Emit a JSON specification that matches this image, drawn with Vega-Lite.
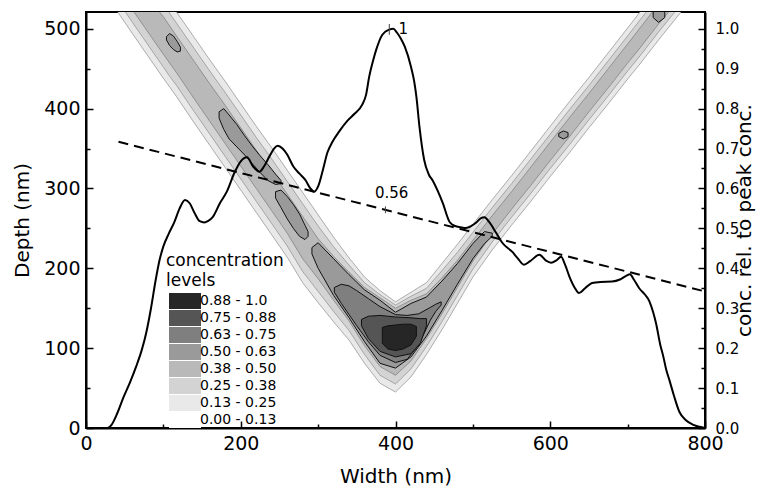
{
  "$schema": "https://vega.github.io/schema/vega-lite/v6.json",
  "width": 619,
  "height": 416,
  "autosize": "none",
  "padding": {"left": 86, "top": 12, "right": 60, "bottom": 60},
  "config": {
    "view": {"stroke": "black", "strokeWidth": 2},
    "axis": {"grid": false, "domainColor": "black", "domainWidth": 2, "tickColor": "black", "tickWidth": 1.5, "labelColor": "black", "titleColor": "black", "labelFont": "DejaVu Sans", "titleFont": "DejaVu Sans", "titleFontWeight": "normal", "labelFlush": false, "labelOverlap": false, "labelBound": false}
  },
  "datasets": {
    "contour": [
      {"level":"0.13 - 0.25","part":"v","x":41,"lo":521,"hi":560},
      {"level":"0.13 - 0.25","part":"v","x":60,"lo":494,"hi":560},
      {"level":"0.13 - 0.25","part":"v","x":80,"lo":466,"hi":560},
      {"level":"0.13 - 0.25","part":"v","x":100,"lo":438,"hi":560},
      {"level":"0.13 - 0.25","part":"v","x":117,"lo":415,"hi":521},
      {"level":"0.13 - 0.25","part":"v","x":140,"lo":382,"hi":489},
      {"level":"0.13 - 0.25","part":"v","x":160,"lo":354,"hi":461},
      {"level":"0.13 - 0.25","part":"v","x":180,"lo":326,"hi":434},
      {"level":"0.13 - 0.25","part":"v","x":200,"lo":298,"hi":406},
      {"level":"0.13 - 0.25","part":"v","x":220,"lo":270,"hi":378},
      {"level":"0.13 - 0.25","part":"v","x":240,"lo":242,"hi":351},
      {"level":"0.13 - 0.25","part":"v","x":260,"lo":214,"hi":323},
      {"level":"0.13 - 0.25","part":"v","x":280,"lo":182,"hi":295},
      {"level":"0.13 - 0.25","part":"v","x":300,"lo":157,"hi":267},
      {"level":"0.13 - 0.25","part":"v","x":320,"lo":133,"hi":239},
      {"level":"0.13 - 0.25","part":"v","x":340,"lo":110,"hi":213},
      {"level":"0.13 - 0.25","part":"v","x":360,"lo":81,"hi":189},
      {"level":"0.13 - 0.25","part":"v","x":380,"lo":56,"hi":172},
      {"level":"0.13 - 0.25","part":"v","x":400,"lo":45,"hi":158},
      {"level":"0.13 - 0.25","part":"v","x":420,"lo":64,"hi":170},
      {"level":"0.13 - 0.25","part":"v","x":440,"lo":92,"hi":182},
      {"level":"0.13 - 0.25","part":"v","x":460,"lo":123,"hi":206},
      {"level":"0.13 - 0.25","part":"v","x":480,"lo":156,"hi":230},
      {"level":"0.13 - 0.25","part":"v","x":500,"lo":189,"hi":255},
      {"level":"0.13 - 0.25","part":"v","x":525,"lo":223,"hi":286},
      {"level":"0.13 - 0.25","part":"v","x":550,"lo":254,"hi":316},
      {"level":"0.13 - 0.25","part":"v","x":575,"lo":284,"hi":347},
      {"level":"0.13 - 0.25","part":"v","x":600,"lo":315,"hi":378},
      {"level":"0.13 - 0.25","part":"v","x":625,"lo":345,"hi":409},
      {"level":"0.13 - 0.25","part":"v","x":650,"lo":376,"hi":439},
      {"level":"0.13 - 0.25","part":"v","x":675,"lo":406,"hi":470},
      {"level":"0.13 - 0.25","part":"v","x":700,"lo":437,"hi":501},
      {"level":"0.13 - 0.25","part":"v","x":716,"lo":456,"hi":521},
      {"level":"0.13 - 0.25","part":"v","x":740,"lo":486,"hi":560},
      {"level":"0.13 - 0.25","part":"v","x":769,"lo":521,"hi":560},

      {"level":"0.25 - 0.38","part":"v","x":51,"lo":521,"hi":560},
      {"level":"0.25 - 0.38","part":"v","x":60,"lo":508,"hi":560},
      {"level":"0.25 - 0.38","part":"v","x":80,"lo":480,"hi":560},
      {"level":"0.25 - 0.38","part":"v","x":100,"lo":452,"hi":560},
      {"level":"0.25 - 0.38","part":"v","x":107,"lo":442,"hi":521},
      {"level":"0.25 - 0.38","part":"v","x":117,"lo":429,"hi":507},
      {"level":"0.25 - 0.38","part":"v","x":140,"lo":396,"hi":475},
      {"level":"0.25 - 0.38","part":"v","x":160,"lo":368,"hi":447},
      {"level":"0.25 - 0.38","part":"v","x":180,"lo":340,"hi":420},
      {"level":"0.25 - 0.38","part":"v","x":200,"lo":312,"hi":392},
      {"level":"0.25 - 0.38","part":"v","x":220,"lo":284,"hi":364},
      {"level":"0.25 - 0.38","part":"v","x":240,"lo":256,"hi":337},
      {"level":"0.25 - 0.38","part":"v","x":260,"lo":228,"hi":309},
      {"level":"0.25 - 0.38","part":"v","x":280,"lo":196,"hi":281},
      {"level":"0.25 - 0.38","part":"v","x":300,"lo":171,"hi":253},
      {"level":"0.25 - 0.38","part":"v","x":320,"lo":146,"hi":227},
      {"level":"0.25 - 0.38","part":"v","x":340,"lo":122,"hi":204},
      {"level":"0.25 - 0.38","part":"v","x":360,"lo":92,"hi":182},
      {"level":"0.25 - 0.38","part":"v","x":380,"lo":66,"hi":167},
      {"level":"0.25 - 0.38","part":"v","x":400,"lo":55,"hi":154},
      {"level":"0.25 - 0.38","part":"v","x":420,"lo":74,"hi":165},
      {"level":"0.25 - 0.38","part":"v","x":440,"lo":102,"hi":175},
      {"level":"0.25 - 0.38","part":"v","x":460,"lo":133,"hi":197},
      {"level":"0.25 - 0.38","part":"v","x":480,"lo":166,"hi":220},
      {"level":"0.25 - 0.38","part":"v","x":500,"lo":199,"hi":245},
      {"level":"0.25 - 0.38","part":"v","x":525,"lo":233,"hi":276},
      {"level":"0.25 - 0.38","part":"v","x":550,"lo":264,"hi":306},
      {"level":"0.25 - 0.38","part":"v","x":575,"lo":294,"hi":337},
      {"level":"0.25 - 0.38","part":"v","x":600,"lo":325,"hi":368},
      {"level":"0.25 - 0.38","part":"v","x":625,"lo":355,"hi":399},
      {"level":"0.25 - 0.38","part":"v","x":650,"lo":386,"hi":429},
      {"level":"0.25 - 0.38","part":"v","x":675,"lo":416,"hi":460},
      {"level":"0.25 - 0.38","part":"v","x":700,"lo":447,"hi":491},
      {"level":"0.25 - 0.38","part":"v","x":716,"lo":466,"hi":511},
      {"level":"0.25 - 0.38","part":"v","x":724,"lo":476,"hi":521},
      {"level":"0.25 - 0.38","part":"v","x":740,"lo":496,"hi":560},
      {"level":"0.25 - 0.38","part":"v","x":761,"lo":521,"hi":560},

      {"level":"0.38 - 0.50","part":"v","x":62,"lo":521,"hi":560},
      {"level":"0.38 - 0.50","part":"v","x":80,"lo":496,"hi":560},
      {"level":"0.38 - 0.50","part":"v","x":95,"lo":475,"hi":521},
      {"level":"0.38 - 0.50","part":"v","x":100,"lo":468,"hi":515},
      {"level":"0.38 - 0.50","part":"v","x":117,"lo":445,"hi":491},
      {"level":"0.38 - 0.50","part":"v","x":140,"lo":412,"hi":459},
      {"level":"0.38 - 0.50","part":"v","x":160,"lo":384,"hi":431},
      {"level":"0.38 - 0.50","part":"v","x":180,"lo":356,"hi":404},
      {"level":"0.38 - 0.50","part":"v","x":200,"lo":328,"hi":376},
      {"level":"0.38 - 0.50","part":"v","x":220,"lo":300,"hi":348},
      {"level":"0.38 - 0.50","part":"v","x":240,"lo":272,"hi":321},
      {"level":"0.38 - 0.50","part":"v","x":260,"lo":244,"hi":293},
      {"level":"0.38 - 0.50","part":"v","x":280,"lo":212,"hi":265},
      {"level":"0.38 - 0.50","part":"v","x":300,"lo":187,"hi":237},
      {"level":"0.38 - 0.50","part":"v","x":320,"lo":160,"hi":215},
      {"level":"0.38 - 0.50","part":"v","x":340,"lo":134,"hi":195},
      {"level":"0.38 - 0.50","part":"v","x":360,"lo":103,"hi":176},
      {"level":"0.38 - 0.50","part":"v","x":380,"lo":77,"hi":163},
      {"level":"0.38 - 0.50","part":"v","x":400,"lo":66,"hi":150},
      {"level":"0.38 - 0.50","part":"v","x":420,"lo":84,"hi":160},
      {"level":"0.38 - 0.50","part":"v","x":440,"lo":112,"hi":168},
      {"level":"0.38 - 0.50","part":"v","x":460,"lo":143,"hi":188},
      {"level":"0.38 - 0.50","part":"v","x":480,"lo":176,"hi":210},
      {"level":"0.38 - 0.50","part":"v","x":500,"lo":209,"hi":235},
      {"level":"0.38 - 0.50","part":"v","x":525,"lo":243,"hi":266},
      {"level":"0.38 - 0.50","part":"v","x":550,"lo":274,"hi":296},
      {"level":"0.38 - 0.50","part":"v","x":575,"lo":304,"hi":327},
      {"level":"0.38 - 0.50","part":"v","x":600,"lo":335,"hi":358},
      {"level":"0.38 - 0.50","part":"v","x":625,"lo":365,"hi":389},
      {"level":"0.38 - 0.50","part":"v","x":650,"lo":396,"hi":419},
      {"level":"0.38 - 0.50","part":"v","x":675,"lo":426,"hi":450},
      {"level":"0.38 - 0.50","part":"v","x":700,"lo":457,"hi":481},
      {"level":"0.38 - 0.50","part":"v","x":716,"lo":476,"hi":501},
      {"level":"0.38 - 0.50","part":"v","x":732,"lo":496,"hi":521},
      {"level":"0.38 - 0.50","part":"v","x":740,"lo":506,"hi":560},
      {"level":"0.38 - 0.50","part":"v","x":753,"lo":521,"hi":560},

      {"level":"0.50 - 0.63","part":"a","x":104,"lo":486,"hi":490},
      {"level":"0.50 - 0.63","part":"a","x":108,"lo":479,"hi":494},
      {"level":"0.50 - 0.63","part":"a","x":113,"lo":474,"hi":491},
      {"level":"0.50 - 0.63","part":"a","x":118,"lo":471,"hi":484},
      {"level":"0.50 - 0.63","part":"a","x":122,"lo":472,"hi":477},
      {"level":"0.50 - 0.63","part":"b","x":172,"lo":388,"hi":396},
      {"level":"0.50 - 0.63","part":"b","x":178,"lo":374,"hi":400},
      {"level":"0.50 - 0.63","part":"b","x":185,"lo":362,"hi":392},
      {"level":"0.50 - 0.63","part":"b","x":195,"lo":352,"hi":380},
      {"level":"0.50 - 0.63","part":"b","x":205,"lo":342,"hi":366},
      {"level":"0.50 - 0.63","part":"b","x":215,"lo":331,"hi":353},
      {"level":"0.50 - 0.63","part":"b","x":225,"lo":320,"hi":341},
      {"level":"0.50 - 0.63","part":"b","x":235,"lo":310,"hi":330},
      {"level":"0.50 - 0.63","part":"b","x":245,"lo":305,"hi":318},
      {"level":"0.50 - 0.63","part":"b","x":252,"lo":306,"hi":310},
      {"level":"0.50 - 0.63","part":"c","x":245,"lo":288,"hi":296},
      {"level":"0.50 - 0.63","part":"c","x":252,"lo":276,"hi":298},
      {"level":"0.50 - 0.63","part":"c","x":260,"lo":262,"hi":290},
      {"level":"0.50 - 0.63","part":"c","x":268,"lo":250,"hi":280},
      {"level":"0.50 - 0.63","part":"c","x":276,"lo":240,"hi":268},
      {"level":"0.50 - 0.63","part":"c","x":283,"lo":236,"hi":254},
      {"level":"0.50 - 0.63","part":"c","x":287,"lo":240,"hi":246},
      {"level":"0.50 - 0.63","part":"d","x":292,"lo":218,"hi":226},
      {"level":"0.50 - 0.63","part":"d","x":300,"lo":200,"hi":232},
      {"level":"0.50 - 0.63","part":"d","x":320,"lo":166,"hi":212},
      {"level":"0.50 - 0.63","part":"d","x":340,"lo":138,"hi":192},
      {"level":"0.50 - 0.63","part":"d","x":360,"lo":108,"hi":173},
      {"level":"0.50 - 0.63","part":"d","x":380,"lo":81,"hi":160},
      {"level":"0.50 - 0.63","part":"d","x":400,"lo":75,"hi":145},
      {"level":"0.50 - 0.63","part":"d","x":420,"lo":89,"hi":156},
      {"level":"0.50 - 0.63","part":"d","x":440,"lo":115,"hi":164},
      {"level":"0.50 - 0.63","part":"d","x":460,"lo":147,"hi":184},
      {"level":"0.50 - 0.63","part":"d","x":480,"lo":180,"hi":206},
      {"level":"0.50 - 0.63","part":"d","x":500,"lo":212,"hi":231},
      {"level":"0.50 - 0.63","part":"d","x":515,"lo":231,"hi":246},
      {"level":"0.50 - 0.63","part":"d","x":525,"lo":240,"hi":244},
      {"level":"0.50 - 0.63","part":"f","x":611,"lo":365,"hi":369},
      {"level":"0.50 - 0.63","part":"f","x":617,"lo":362,"hi":372},
      {"level":"0.50 - 0.63","part":"f","x":623,"lo":365,"hi":370},
      {"level":"0.50 - 0.63","part":"g","x":733,"lo":514,"hi":530},
      {"level":"0.50 - 0.63","part":"g","x":740,"lo":508,"hi":530},
      {"level":"0.50 - 0.63","part":"g","x":748,"lo":514,"hi":530},

      {"level":"0.63 - 0.75","part":"e","x":321,"lo":170,"hi":176},
      {"level":"0.63 - 0.75","part":"e","x":330,"lo":156,"hi":180},
      {"level":"0.63 - 0.75","part":"e","x":340,"lo":142,"hi":178},
      {"level":"0.63 - 0.75","part":"e","x":350,"lo":128,"hi":172},
      {"level":"0.63 - 0.75","part":"e","x":365,"lo":108,"hi":162},
      {"level":"0.63 - 0.75","part":"e","x":380,"lo":91,"hi":152},
      {"level":"0.63 - 0.75","part":"e","x":400,"lo":82,"hi":142},
      {"level":"0.63 - 0.75","part":"e","x":415,"lo":86,"hi":141},
      {"level":"0.63 - 0.75","part":"e","x":430,"lo":104,"hi":143},
      {"level":"0.63 - 0.75","part":"e","x":445,"lo":135,"hi":151},
      {"level":"0.63 - 0.75","part":"e","x":452,"lo":146,"hi":155},
      {"level":"0.63 - 0.75","part":"e","x":459,"lo":154,"hi":158},

      {"level":"0.75 - 0.88","part":"h","x":356,"lo":128,"hi":136},
      {"level":"0.75 - 0.88","part":"h","x":365,"lo":112,"hi":140},
      {"level":"0.75 - 0.88","part":"h","x":380,"lo":96,"hi":141},
      {"level":"0.75 - 0.88","part":"h","x":400,"lo":89,"hi":139},
      {"level":"0.75 - 0.88","part":"h","x":420,"lo":93,"hi":138},
      {"level":"0.75 - 0.88","part":"h","x":432,"lo":106,"hi":137},
      {"level":"0.75 - 0.88","part":"h","x":440,"lo":128,"hi":137},

      {"level":"0.88 - 1.0","part":"k","x":383,"lo":106,"hi":126},
      {"level":"0.88 - 1.0","part":"k","x":390,"lo":99,"hi":128},
      {"level":"0.88 - 1.0","part":"k","x":400,"lo":97,"hi":129},
      {"level":"0.88 - 1.0","part":"k","x":410,"lo":99,"hi":130},
      {"level":"0.88 - 1.0","part":"k","x":420,"lo":104,"hi":130},
      {"level":"0.88 - 1.0","part":"k","x":427,"lo":115,"hi":127}
    ],
    "lines": [
      {"kind":"profile","x":0,"c":0},{"kind":"profile","x":28,"c":0},{"kind":"profile","x":33,"c":0.008},{"kind":"profile","x":40,"c":0.035},
      {"kind":"profile","x":48,"c":0.075},{"kind":"profile","x":57,"c":0.115},{"kind":"profile","x":65,"c":0.155},{"kind":"profile","x":72,"c":0.195},
      {"kind":"profile","x":78,"c":0.24},{"kind":"profile","x":84,"c":0.3},{"kind":"profile","x":90,"c":0.37},{"kind":"profile","x":95,"c":0.42},
      {"kind":"profile","x":100,"c":0.455},{"kind":"profile","x":107,"c":0.487},{"kind":"profile","x":114,"c":0.515},{"kind":"profile","x":121,"c":0.55},
      {"kind":"profile","x":128,"c":0.571},{"kind":"profile","x":134,"c":0.563},{"kind":"profile","x":140,"c":0.54},{"kind":"profile","x":147,"c":0.518},
      {"kind":"profile","x":153,"c":0.515},{"kind":"profile","x":158,"c":0.519},{"kind":"profile","x":164,"c":0.529},{"kind":"profile","x":173,"c":0.563},
      {"kind":"profile","x":182,"c":0.592},{"kind":"profile","x":192,"c":0.64},{"kind":"profile","x":200,"c":0.668},{"kind":"profile","x":208,"c":0.678},
      {"kind":"profile","x":216,"c":0.655},{"kind":"profile","x":224,"c":0.642},{"kind":"profile","x":230,"c":0.655},{"kind":"profile","x":237,"c":0.68},
      {"kind":"profile","x":243,"c":0.7},{"kind":"profile","x":248,"c":0.707},{"kind":"profile","x":254,"c":0.7},{"kind":"profile","x":260,"c":0.685},
      {"kind":"profile","x":268,"c":0.655},{"kind":"profile","x":276,"c":0.637},{"kind":"profile","x":284,"c":0.62},{"kind":"profile","x":290,"c":0.6},
      {"kind":"profile","x":295,"c":0.592},{"kind":"profile","x":300,"c":0.605},{"kind":"profile","x":306,"c":0.645},{"kind":"profile","x":312,"c":0.69},
      {"kind":"profile","x":318,"c":0.715},{"kind":"profile","x":328,"c":0.745},{"kind":"profile","x":338,"c":0.77},{"kind":"profile","x":347,"c":0.787},
      {"kind":"profile","x":357,"c":0.81},{"kind":"profile","x":362,"c":0.835},{"kind":"profile","x":366,"c":0.88},{"kind":"profile","x":371,"c":0.92},
      {"kind":"profile","x":375,"c":0.947},{"kind":"profile","x":383,"c":0.985},{"kind":"profile","x":392,"c":0.998},{"kind":"profile","x":397,"c":1.0},
      {"kind":"profile","x":402,"c":0.99},{"kind":"profile","x":407,"c":0.975},{"kind":"profile","x":412,"c":0.955},{"kind":"profile","x":420,"c":0.905},
      {"kind":"profile","x":424,"c":0.87},{"kind":"profile","x":427,"c":0.83},{"kind":"profile","x":431,"c":0.754},{"kind":"profile","x":437,"c":0.672},
      {"kind":"profile","x":443,"c":0.635},{"kind":"profile","x":448,"c":0.62},{"kind":"profile","x":455,"c":0.592},{"kind":"profile","x":461,"c":0.564},
      {"kind":"profile","x":470,"c":0.516},{"kind":"profile","x":477,"c":0.506},{"kind":"profile","x":484,"c":0.503},{"kind":"profile","x":491,"c":0.501},
      {"kind":"profile","x":498,"c":0.506},{"kind":"profile","x":504,"c":0.514},{"kind":"profile","x":510,"c":0.525},{"kind":"profile","x":515,"c":0.528},
      {"kind":"profile","x":521,"c":0.516},{"kind":"profile","x":530,"c":0.489},{"kind":"profile","x":538,"c":0.464},{"kind":"profile","x":551,"c":0.441},
      {"kind":"profile","x":558,"c":0.425},{"kind":"profile","x":566,"c":0.409},{"kind":"profile","x":574,"c":0.418},{"kind":"profile","x":586,"c":0.434},
      {"kind":"profile","x":594,"c":0.42},{"kind":"profile","x":601,"c":0.414},{"kind":"profile","x":608,"c":0.42},{"kind":"profile","x":614,"c":0.429},
      {"kind":"profile","x":619,"c":0.41},{"kind":"profile","x":625,"c":0.378},{"kind":"profile","x":632,"c":0.35},{"kind":"profile","x":637,"c":0.338},
      {"kind":"profile","x":645,"c":0.35},{"kind":"profile","x":654,"c":0.363},{"kind":"profile","x":665,"c":0.366},{"kind":"profile","x":680,"c":0.367},
      {"kind":"profile","x":690,"c":0.372},{"kind":"profile","x":698,"c":0.381},{"kind":"profile","x":703,"c":0.385},{"kind":"profile","x":708,"c":0.372},
      {"kind":"profile","x":715,"c":0.35},{"kind":"profile","x":722,"c":0.335},{"kind":"profile","x":728,"c":0.318},{"kind":"profile","x":733,"c":0.29},
      {"kind":"profile","x":737,"c":0.26},{"kind":"profile","x":742,"c":0.21},{"kind":"profile","x":746,"c":0.18},{"kind":"profile","x":750,"c":0.145},
      {"kind":"profile","x":754,"c":0.12},{"kind":"profile","x":760,"c":0.08},{"kind":"profile","x":767,"c":0.04},{"kind":"profile","x":775,"c":0.02},
      {"kind":"profile","x":785,"c":0.008},{"kind":"profile","x":793,"c":0.003},{"kind":"profile","x":800,"c":0},
      {"kind":"fit","x":42,"c":0.717},{"kind":"fit","x":800,"c":0.342},
      {"kind":"tick","x":392,"c":0.985,"c2":1.012},{"kind":"tick","x":387,"c":0.538,"c2":0.555},
      {"kind":"label","x":410,"c":1.0,"label":"1"},{"kind":"label","x":395,"c":0.589,"label":"0.56"}
    ]
  },
  "layer": [
    {
      "data": {"name": "contour"},
      "encoding": {
        "x": {"field": "x", "type": "quantitative", "scale": {"domain": [0, 800], "nice": false, "zero": false},
          "axis": {"title": "Width (nm)", "values": [0,100,200,300,400,500,600,700,800], "labelExpr": "datum.value % 200 == 0 ? datum.label : ''", "tickSize": {"condition": {"test": "datum.value % 200 != 0", "value": -4}, "value": -7}, "labelFontSize": 19, "labelPadding": 13, "titleFontSize": 20, "titlePadding": 10}},
        "y": {"field": "lo", "type": "quantitative", "scale": {"domain": [0, 521], "nice": false, "zero": false},
          "axis": {"title": "Depth (nm)", "values": [0,50,100,150,200,250,300,350,400,450,500], "labelExpr": "datum.value % 100 == 0 ? datum.label : ''", "tickSize": {"condition": {"test": "datum.value % 100 != 0", "value": -4}, "value": -7}, "labelFontSize": 19, "labelPadding": 13, "titleFontSize": 20, "titlePadding": 11}},
        "y2": {"field": "hi"},
        "detail": {"field": "part"},
        "color": {"field": "level", "type": "nominal",
          "scale": {"domain": ["0.88 - 1.0", "0.75 - 0.88", "0.63 - 0.75", "0.50 - 0.63", "0.38 - 0.50", "0.25 - 0.38", "0.13 - 0.25", "0.00 - 0.13"],
                    "range": ["#262626", "#555555", "#7f7f7f", "#9a9a9a", "#b9b9b9", "#d3d3d3", "#e9e9e9", "#ffffff"]},
          "legend": {"orient": "none", "legendX": 80, "legendY": 241, "title": ["concentration", "levels"], "titleFont": "DejaVu Sans", "titleFontSize": 17, "titleFontWeight": "normal", "titleColor": "black", "titleLineHeight": 20, "titlePadding": 3, "titleLimit": 400, "labelFont": "DejaVu Sans", "labelFontSize": 14, "labelColor": "black", "labelOffset": 7, "symbolType": "M-2,-1H2V1H-2Z", "symbolSize": 256, "symbolStrokeWidth": 0, "symbolOpacity": 1, "symbolOffset": 11, "rowPadding": 1, "padding": 0}}
      },
      "layer": [
        {"transform": [{"filter": "datum.level == '0.13 - 0.25'"}], "mark": {"type": "area", "clip": true, "stroke": "#8c8c8c", "strokeWidth": 0.7, "opacity": 1}},
        {"transform": [{"filter": "datum.level == '0.25 - 0.38'"}], "mark": {"type": "area", "clip": true, "stroke": "#8c8c8c", "strokeWidth": 0.7, "opacity": 1}},
        {"transform": [{"filter": "datum.level == '0.38 - 0.50'"}], "mark": {"type": "area", "clip": true, "stroke": "#7a7a7a", "strokeWidth": 0.7, "opacity": 1}},
        {"transform": [{"filter": "datum.level == '0.50 - 0.63'"}], "mark": {"type": "area", "clip": true, "stroke": "#111111", "strokeWidth": 1, "opacity": 1}},
        {"transform": [{"filter": "datum.level == '0.63 - 0.75'"}], "mark": {"type": "area", "clip": true, "stroke": "#111111", "strokeWidth": 1, "opacity": 1}},
        {"transform": [{"filter": "datum.level == '0.75 - 0.88'"}], "mark": {"type": "area", "clip": true, "stroke": "#111111", "strokeWidth": 1, "opacity": 1}},
        {"transform": [{"filter": "datum.level == '0.88 - 1.0'"}], "mark": {"type": "area", "clip": true, "stroke": "#111111", "strokeWidth": 1, "opacity": 1}}
      ]
    },
    {
      "data": {"name": "lines"},
      "encoding": {
        "x": {"field": "x", "type": "quantitative", "scale": {"domain": [0, 800], "nice": false, "zero": false},
          "axis": {"title": "Width (nm)", "values": [0,100,200,300,400,500,600,700,800], "labelExpr": "datum.value % 200 == 0 ? datum.label : ''", "tickSize": {"condition": {"test": "datum.value % 200 != 0", "value": -4}, "value": -7}, "labelFontSize": 19, "labelPadding": 13, "titleFontSize": 20, "titlePadding": 10}},
        "y": {"field": "c", "type": "quantitative", "scale": {"domain": [0, 1.042], "nice": false, "zero": false},
          "axis": {"orient": "right", "title": "conc. rel. to peak conc.", "values": [0,0.05,0.1,0.15,0.2,0.25,0.3,0.35,0.4,0.45,0.5,0.55,0.6,0.65,0.7,0.75,0.8,0.85,0.9,0.95,1.0], "labelExpr": "round(datum.value*100) % 10 == 0 ? format(datum.value, '.1f') : ''", "tickSize": {"condition": {"test": "round(datum.value*100) % 10 != 0", "value": -4}, "value": -7}, "labelFontSize": 15, "labelPadding": 17, "titleFontSize": 20, "titlePadding": 16, "titleAngle": 270}}
      },
      "layer": [
        {"transform": [{"filter": "datum.kind == 'profile'"}], "mark": {"type": "line", "color": "black", "strokeWidth": 2, "interpolate": "monotone"}},
        {"transform": [{"filter": "datum.kind == 'fit'"}], "mark": {"type": "line", "color": "black", "strokeWidth": 2, "strokeDash": [10, 6]}},
        {"transform": [{"filter": "datum.kind == 'tick'"}], "mark": {"type": "rule", "color": "#444444", "strokeWidth": 1}, "encoding": {"y2": {"field": "c2"}}},
        {"transform": [{"filter": "datum.kind == 'label'"}], "mark": {"type": "text", "font": "DejaVu Sans", "fontSize": 15, "align": "center", "baseline": "middle", "color": "black"}, "encoding": {"text": {"field": "label"}}}
      ]
    }
  ],
  "resolve": {"scale": {"y": "independent"}, "axis": {"y": "independent"}}
}
